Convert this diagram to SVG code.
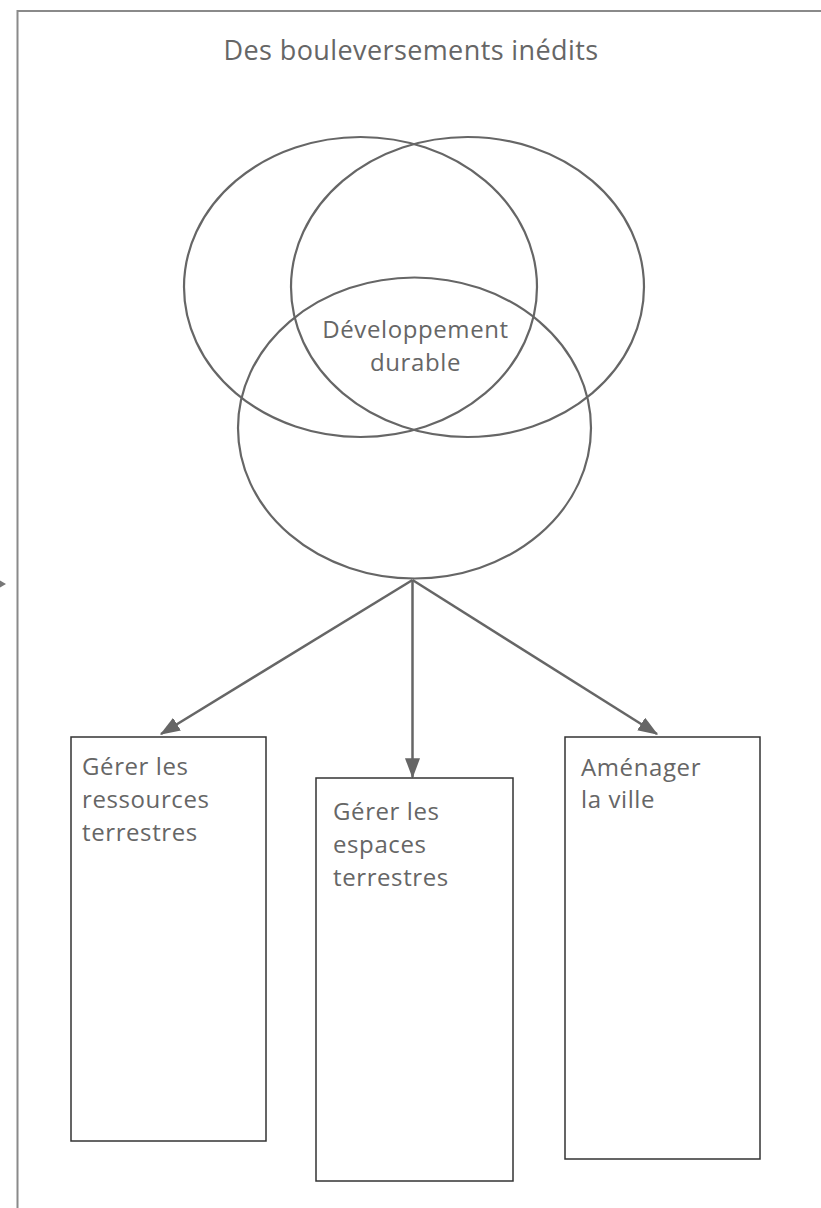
<svg xmlns="http://www.w3.org/2000/svg" width="821" height="1208" viewBox="0 0 821 1208">
  <style>
    .frame { fill: none; stroke: #8a8a8a; stroke-width: 2; }
    .ring { fill: none; stroke: #666666; stroke-width: 2.2; }
    .box { fill: #ffffff; stroke: #333333; stroke-width: 1.5; }
    .link { fill: none; stroke: #666666; stroke-width: 2.5; }
    .lbl { font-family: "Open Sans", "Liberation Sans", sans-serif; fill: #666666; }
    .title { font-size: 27px; letter-spacing: 0.4px; }
    .body { font-size: 24px; letter-spacing: 0.6px; }
  </style>
  <defs>
    <marker id="arrow" markerWidth="8" markerHeight="6" refX="7.5" refY="3" orient="auto" markerUnits="strokeWidth">
      <path d="M0,0 L8,3 L0,6 Z" fill="#666666"/>
    </marker>
  </defs>

  <rect width="821" height="1208" fill="#ffffff"/>

  <!-- outer frame, open past the right and bottom edges -->
  <rect class="frame" x="17.5" y="11" width="900" height="1300"/>

  <!-- stray arrow tip at the left margin -->
  <path d="M0,580.5 L6,584 L0,587.5 Z" fill="#777777"/>

  <g id="title">
    <text class="lbl title" x="411" y="60" text-anchor="middle">Des bouleversements inédits</text>
  </g>

  <g id="venn">
    <ellipse class="ring" cx="360.5" cy="287" rx="176.5" ry="150"/>
    <ellipse class="ring" cx="467.5" cy="287" rx="176.5" ry="150"/>
    <ellipse class="ring" cx="414.5" cy="428" rx="176.5" ry="150.5"/>
    <text class="lbl body" x="415.5" y="338" text-anchor="middle">Développement</text>
    <text class="lbl body" x="415.5" y="371" text-anchor="middle">durable</text>
  </g>

  <g id="connectors">
    <line class="link" x1="412.5" y1="580" x2="161" y2="734" marker-end="url(#arrow)"/>
    <line class="link" x1="412.5" y1="580" x2="412.5" y2="777" marker-end="url(#arrow)"/>
    <line class="link" x1="412.5" y1="580" x2="657" y2="734" marker-end="url(#arrow)"/>
  </g>

  <g id="box-ressources">
    <rect class="box" x="71" y="737" width="195" height="404"/>
    <text class="lbl body" x="82" y="775">Gérer les</text>
    <text class="lbl body" x="82" y="808">ressources</text>
    <text class="lbl body" x="82" y="841">terrestres</text>
  </g>

  <g id="box-espaces">
    <rect class="box" x="316" y="778" width="197" height="403"/>
    <text class="lbl body" x="333" y="820">Gérer les</text>
    <text class="lbl body" x="333" y="853">espaces</text>
    <text class="lbl body" x="333" y="886">terrestres</text>
  </g>

  <g id="box-ville">
    <rect class="box" x="565" y="737" width="195" height="422"/>
    <text class="lbl body" x="581" y="776">Aménager</text>
    <text class="lbl body" x="581" y="808">la ville</text>
  </g>
</svg>
